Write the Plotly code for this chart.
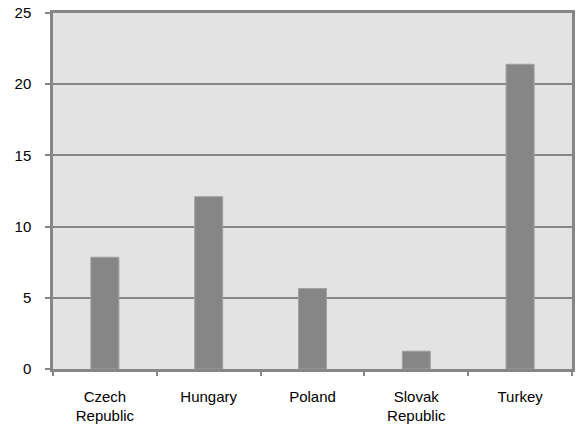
import plotly.graph_objects as go

categories = ["Czech<br>Republic", "Hungary", "Poland", "Slovak<br>Republic", "Turkey"]
values = [7.85, 12.1, 5.65, 1.25, 21.4]
y_ticks = [0, 5, 10, 15, 20, 25]

fig = go.Figure(go.Bar(
    x=categories, y=values,
    marker=dict(color="#868686", line=dict(color="#a0a0a0", width=1)),
    width=0.27,
))

fig.update_layout(
    width=576, height=428,
    margin=dict(l=53, r=1, t=13, b=59),
    paper_bgcolor="white",
    plot_bgcolor="#e3e3e3",
    showlegend=False,
    font=dict(family="Liberation Sans, Arial, sans-serif", size=15, color="black"),
    xaxis=dict(
        type="category", tickson="boundaries",
        ticks="outside", ticklen=4, tickcolor="#868686", tickwidth=2,
        showgrid=False, showline=True, linecolor="#868686", linewidth=2.5,
        mirror=True, ticklabelstandoff=12,
    ),
    yaxis=dict(
        range=[0, 25], tickvals=y_ticks,
        ticks="outside", ticklen=5, tickcolor="#868686", tickwidth=2,
        showgrid=True, gridcolor="#868686", gridwidth=1.5,
        showline=True, linecolor="#868686", linewidth=2.5, mirror=True,
        zeroline=False, ticklabelstandoff=11,
    ),
)

fig.write_html("out.html")
